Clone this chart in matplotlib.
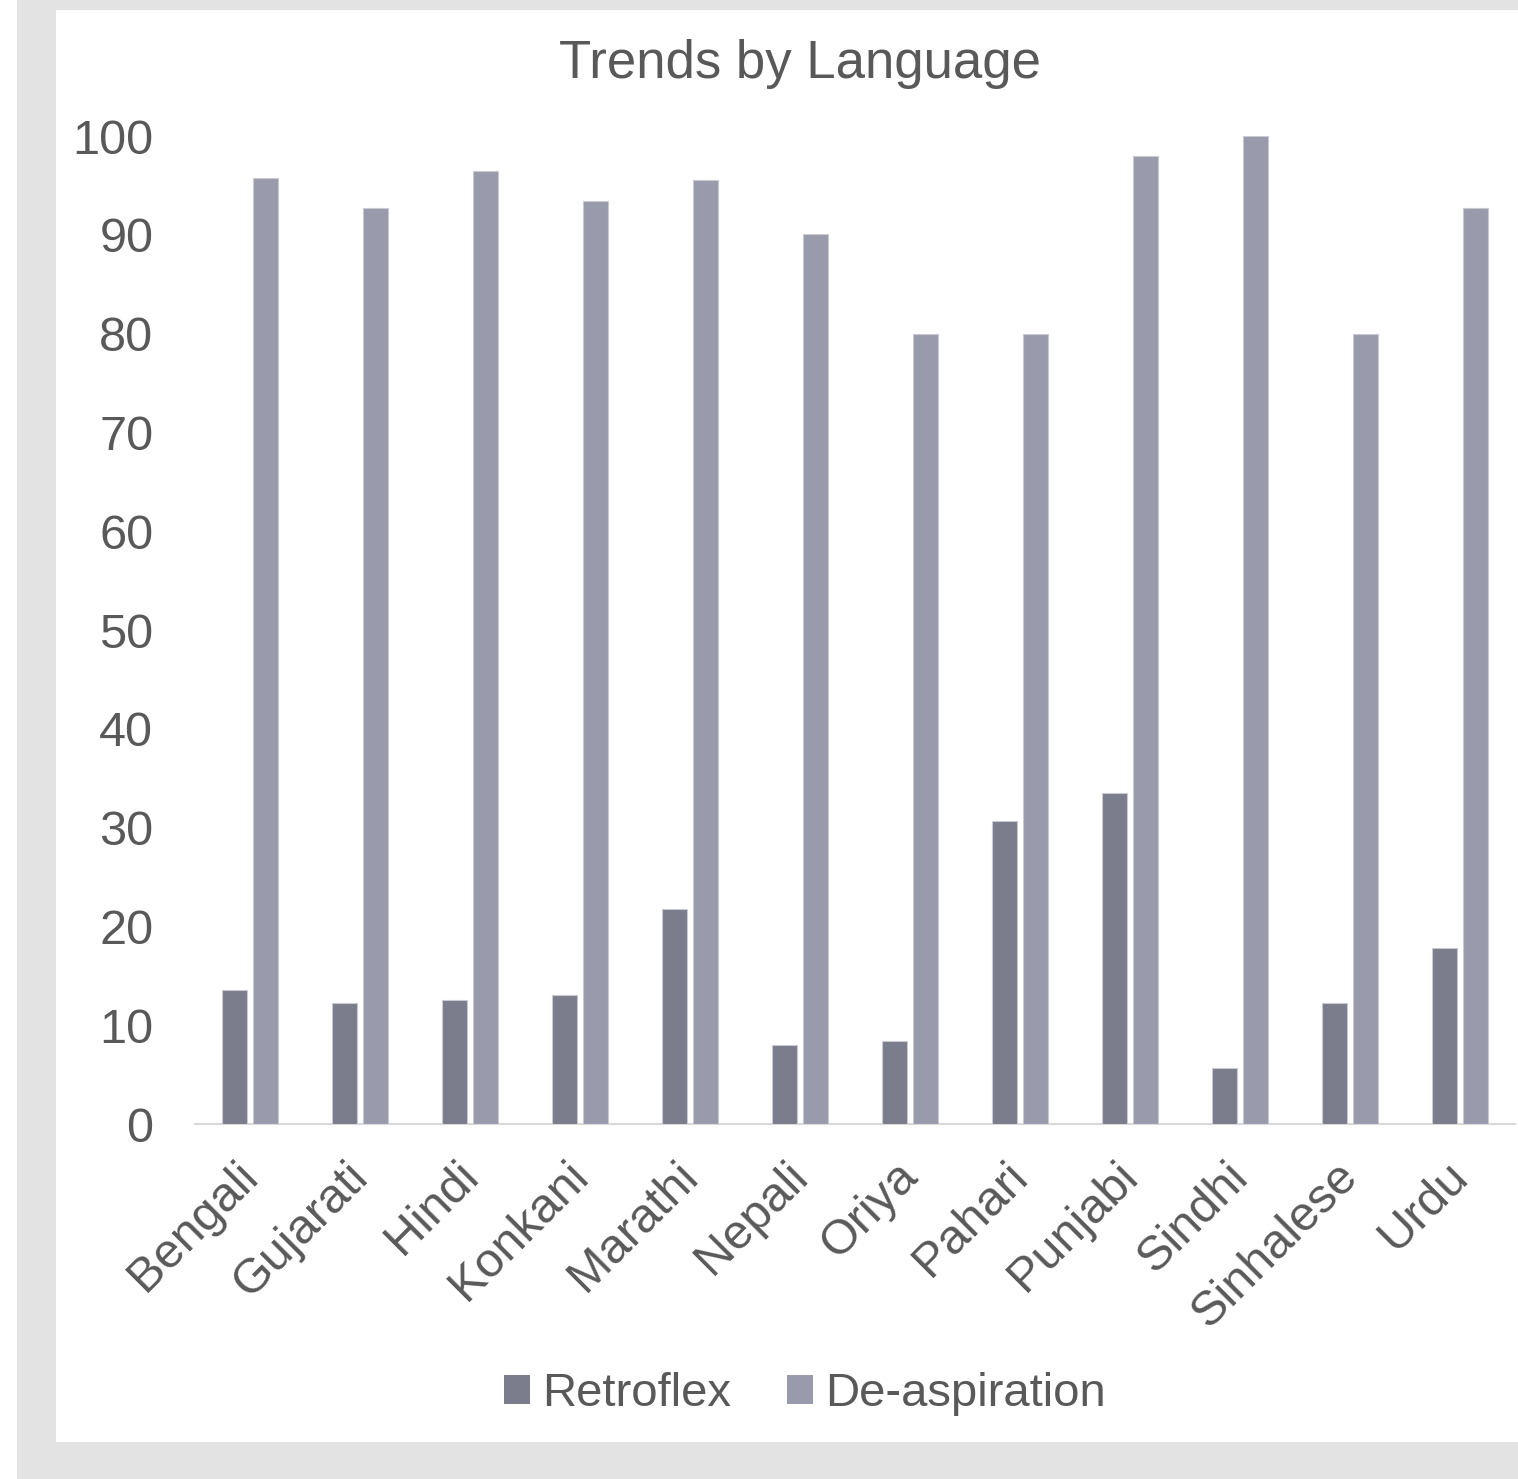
import matplotlib
matplotlib.use("Agg")
import matplotlib.pyplot as plt
import numpy as np
from matplotlib.patches import Rectangle
from matplotlib.transforms import ScaledTranslation

plt.rcParams['font.family'] = ['Liberation Sans', 'DejaVu Sans']

languages = ["Bengali", "Gujarati", "Hindi", "Konkani", "Marathi", "Nepali",
             "Oriya", "Pahari", "Punjabi", "Sindhi", "Sinhalese", "Urdu"]
retroflex = [13.6, 12.2, 12.6, 13.1, 21.8, 8.0, 8.4, 30.7, 33.5, 5.7, 12.2, 17.8]
deaspiration = [95.7, 92.7, 96.5, 93.4, 95.5, 90.1, 80.0, 80.0, 98.0, 100.0, 80.0, 92.7]
series_names = ["Retroflex", "De-aspiration"]
yticks = [0, 10, 20, 30, 40, 50, 60, 70, 80, 90, 100]

W, H = 1518, 1479
fig = plt.figure(figsize=(W / 100, H / 100), dpi=100)
fig.patch.set_facecolor("white")

def px_rect(x0, y0, x1, y1, color):
    fig.patches.append(Rectangle((x0 / W, 1 - y1 / H), (x1 - x0) / W, (y1 - y0) / H,
                                 transform=fig.transFigure, facecolor=color,
                                 edgecolor="none", zorder=-10))

px_rect(17, 0, W, H, "#e3e3e3")
px_rect(56, 10, W, 1442, "white")

ax = fig.add_axes([195 / W, 1 - 1124 / H, (1515 - 195) / W, (1124 - 136) / H])
ax.set_facecolor("none")

x = np.arange(len(languages))
bw = 0.227
off = 0.141
c_ret = "#7b7c8c"
c_dea = "#999aac"
ax.bar(x - off, retroflex, width=bw, color=c_ret, edgecolor="#c9c9d2", linewidth=0.8, zorder=3)
ax.bar(x + off, deaspiration, width=bw, color=c_dea, edgecolor="#c9c9d2", linewidth=0.8, zorder=3)

ax.set_xlim(-0.5, len(languages) - 0.5)
ax.set_ylim(0, 100)
ax.set_yticks(yticks)
ax.set_yticklabels([str(v) for v in yticks], fontsize=35, color="#595959")
ax.tick_params(axis="y", length=0, pad=30)
ax.set_xticks(x)
ax.set_xticklabels(languages, fontsize=35, color="#595959", rotation=45,
                   ha="right", rotation_mode="anchor")
ax.tick_params(axis="x", length=0, pad=14)
shift = ScaledTranslation(-0.15, -0.10, fig.dpi_scale_trans)
for lab in ax.get_xticklabels():
    lab.set_transform(lab.get_transform() + shift)
for s in ["top", "right", "left"]:
    ax.spines[s].set_visible(False)
ax.spines["bottom"].set_color("#d9d9d9")
ax.spines["bottom"].set_linewidth(1.5)

fig.text(800 / W, 1 - 64 / H, "Trends by Language", fontsize=38, color="#595959",
         ha="center", va="center")

handles = [Rectangle((0, 0), 1, 1, facecolor=c_ret, edgecolor="none"),
           Rectangle((0, 0), 1, 1, facecolor=c_dea, edgecolor="none")]
leg = fig.legend(handles, series_names, loc="center", bbox_to_anchor=(805 / W, 1 - 1394 / H),
                 ncol=2, frameon=False, fontsize=34, handlelength=0.55, handleheight=0.55,
                 handletextpad=0.25, columnspacing=1.2, labelcolor="#595959")

fig.savefig("out.png", dpi=100, facecolor="white")
